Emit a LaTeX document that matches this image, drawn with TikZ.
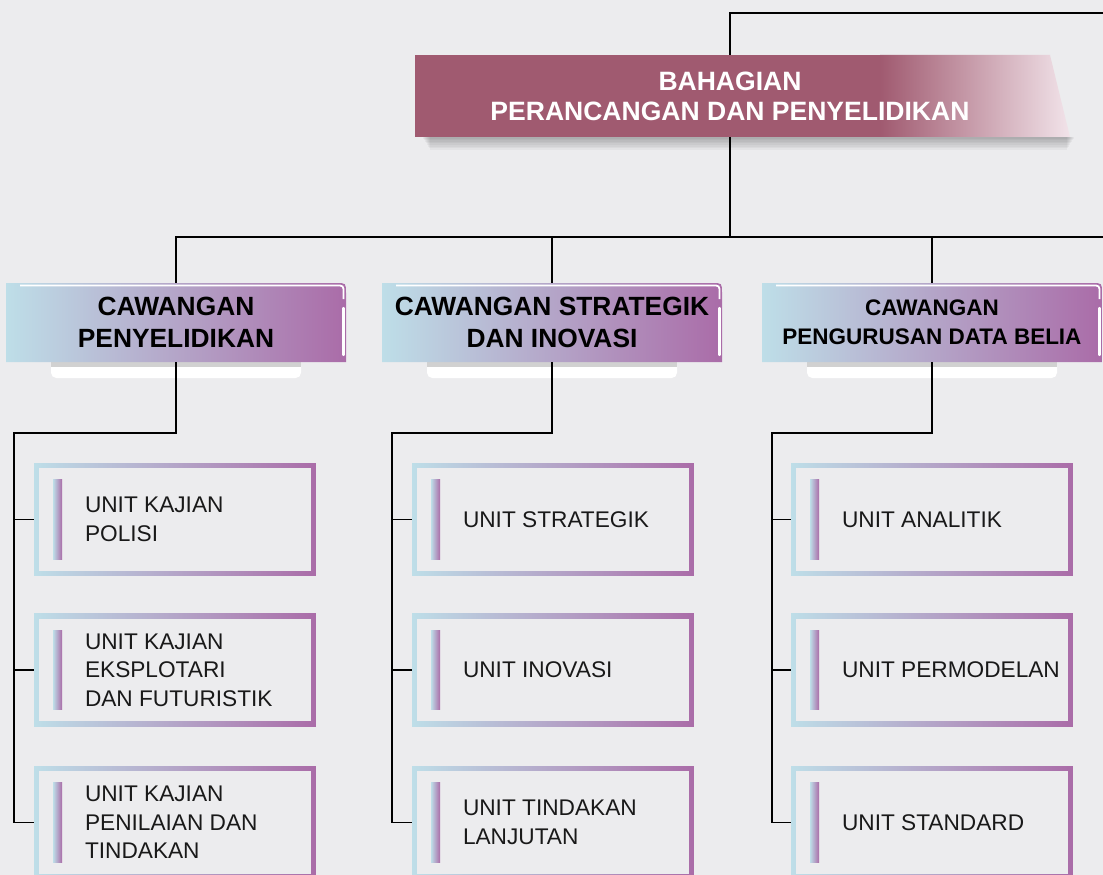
\documentclass[tikz,border=0pt]{standalone}
\usepackage{fontspec}
\setmainfont{Liberation Sans}
\usetikzlibrary{calc}

\definecolor{bgcol}{RGB}{236,236,238}
\definecolor{mauve}{RGB}{160,90,112}
\definecolor{mauvelight}{RGB}{242,228,234}
\definecolor{lblue}{RGB}{190,222,232}
\definecolor{purp}{RGB}{170,108,168}
\definecolor{txtcol}{RGB}{25,25,25}

\tikzset{
  link/.style={draw=black, line width=0.75pt},
  topbox/.style={minimum width=12.6cm, minimum height=1.64cm, inner sep=0pt, align=center,
    text=white, font=\fontsize{15.1}{17}\selectfont\bfseries},
  branch/.style={minimum width=6.8cm, minimum height=1.58cm, inner sep=0pt, align=center,
    font=\fontsize{15}{18}\selectfont\bfseries},
  unitbox/.style={minimum width=5.64cm, minimum height=2.26cm, inner sep=0pt,
    left color=lblue, right color=purp,
    path picture={
      \fill[bgcol] ([shift={(0.1cm,0.1cm)}]path picture bounding box.south west)
        rectangle ([shift={(-0.1cm,-0.1cm)}]path picture bounding box.north east);
      \shade[left color=lblue, right color=purp] ([shift={(0.38cm,-0.8cm)}]path picture bounding box.west)
        rectangle ([shift={(0.56cm,0.8cm)}]path picture bounding box.west);
    }},
  unittext/.style={anchor=west, align=left, inner sep=0pt, text=txtcol,
    font=\fontsize{12.9}{16.2}\selectfont},
}

\begin{document}
\begin{tikzpicture}[x=0.02cm, y=-0.02cm]
  \fill[bgcol] (0,0) rectangle (1103,875); % background
  \useasboundingbox (0,0) rectangle (1103,875);
  %
  \foreach \s in {1,...,8}                  % shadow of top box
    \fill[black, opacity=0.035] (422+\s,137) rectangle (1075-\s,137+1.6*\s);
  \begin{scope}                             % top box
    \clip (415,55) -- (1050,55) -- (1070,137) -- (415,137) -- cycle;
    \fill[mauve] (415,55) rectangle (880,137);
    \shade[left color=mauve, right color=mauvelight] (880,55) rectangle (1071,137);
  \end{scope}
  %
  \foreach \bx in {6,382,762}{              % branch boxes
    \fill[white, rounded corners=3pt] (\bx+45,360) rectangle (\bx+295,378);
    \fill[black!18] (\bx+45,362) rectangle (\bx+295,367);
    \shade[left color=lblue, right color=purp] (\bx,283) -- (\bx+330,283)
      .. controls (\bx+340,283) .. (\bx+340,293) -- (\bx+340,362) -- (\bx,362) -- cycle;
    \draw[white, line width=1pt] (\bx+14,285.5) -- (\bx+330,285.5)
      .. controls (\bx+337.5,285.5) .. (\bx+337.5,293) -- (\bx+337.5,299);
    \draw[white, line width=1.2pt, line cap=round] (\bx+337.5,308) -- (\bx+337.5,355);
  }
  %
  \node[topbox] (bhg) at (730,96) {BAHAGIAN\\PERANCANGAN DAN PENYELIDIKAN};
  %%
  \node[branch] (c1) at (176,322.5) {CAWANGAN\\PENYELIDIKAN};
  \node[branch] (c2) at (552,322.5) {CAWANGAN STRATEGIK\\DAN INOVASI};
  \node[branch, font=\fontsize{12.8}{16.4}\selectfont\bfseries] (c3) at (932,322.5)
    {CAWANGAN\\PENGURUSAN DATA BELIA};
  %
  \node[unitbox] (u11) at (175,519.5) {};   % first column
  \node[unitbox] (u12) at (175,670) {};
  \node[unitbox] (u13) at (175,822.5) {};
  \node[unittext] (t11) at ([xshift=1.02cm]u11.west) {UNIT KAJIAN\\POLISI};
  \node[unittext] (t12) at ([xshift=1.02cm]u12.west) {UNIT KAJIAN\\EKSPLOTARI\\DAN FUTURISTIK};
  \node[unittext] (t13) at ([xshift=1.02cm]u13.west) {UNIT KAJIAN\\PENILAIAN DAN\\TINDAKAN};
  %%
  \node[unitbox] (u21) at (553,519.5) {};   % second column
  \node[unitbox] (u22) at (553,670) {};
  \node[unitbox] (u23) at (553,822.5) {};
  \node[unittext] (t21) at ([xshift=1.02cm]u21.west) {UNIT STRATEGIK};
  \node[unittext] (t22) at ([xshift=1.02cm]u22.west) {UNIT INOVASI};
  \node[unittext] (t23) at ([xshift=1.02cm]u23.west) {UNIT TINDAKAN\\LANJUTAN};
  %%
  \node[unitbox] (u31) at (932,519.5) {};   % third column
  \node[unitbox] (u32) at (932,670) {};
  \node[unitbox] (u33) at (932,822.5) {};
  \node[unittext] (t31) at ([xshift=1.02cm]u31.west) {UNIT ANALITIK};
  \node[unittext] (t32) at ([xshift=1.02cm]u32.west) {UNIT PERMODELAN};
  \node[unittext] (t33) at ([xshift=1.02cm]u33.west) {UNIT STANDARD};
  %
  \coordinate (tr) at (1103,13);            % lines
  \coordinate (hr) at (1103,237);
  \draw[link] (bhg.north) |- (tr);
  \draw[link] (bhg.south) -- (bhg.south |- hr);
  \draw[link] (c1.north) |- (hr);
  \draw[link] (c2.north) -- (c2.north |- hr);
  \draw[link] (c3.north) -- (c3.north |- hr);
  %
  \coordinate (k1) at (14,433);
  \coordinate (k2) at (392,433);
  \coordinate (k3) at (772,433);
  \draw[link] (c1.south) |- (k1) |- (u13.west);
  \draw[link] (k1 |- u11.west) -- (u11.west);
  \draw[link] (k1 |- u12.west) -- (u12.west);
  \draw[link] (c2.south) |- (k2) |- (u23.west);
  \draw[link] (k2 |- u21.west) -- (u21.west);
  \draw[link] (k2 |- u22.west) -- (u22.west);
  \draw[link] (c3.south) |- (k3) |- (u33.west);
  \draw[link] (k3 |- u31.west) -- (u31.west);
  \draw[link] (k3 |- u32.west) -- (u32.west);
\end{tikzpicture}
\end{document}
